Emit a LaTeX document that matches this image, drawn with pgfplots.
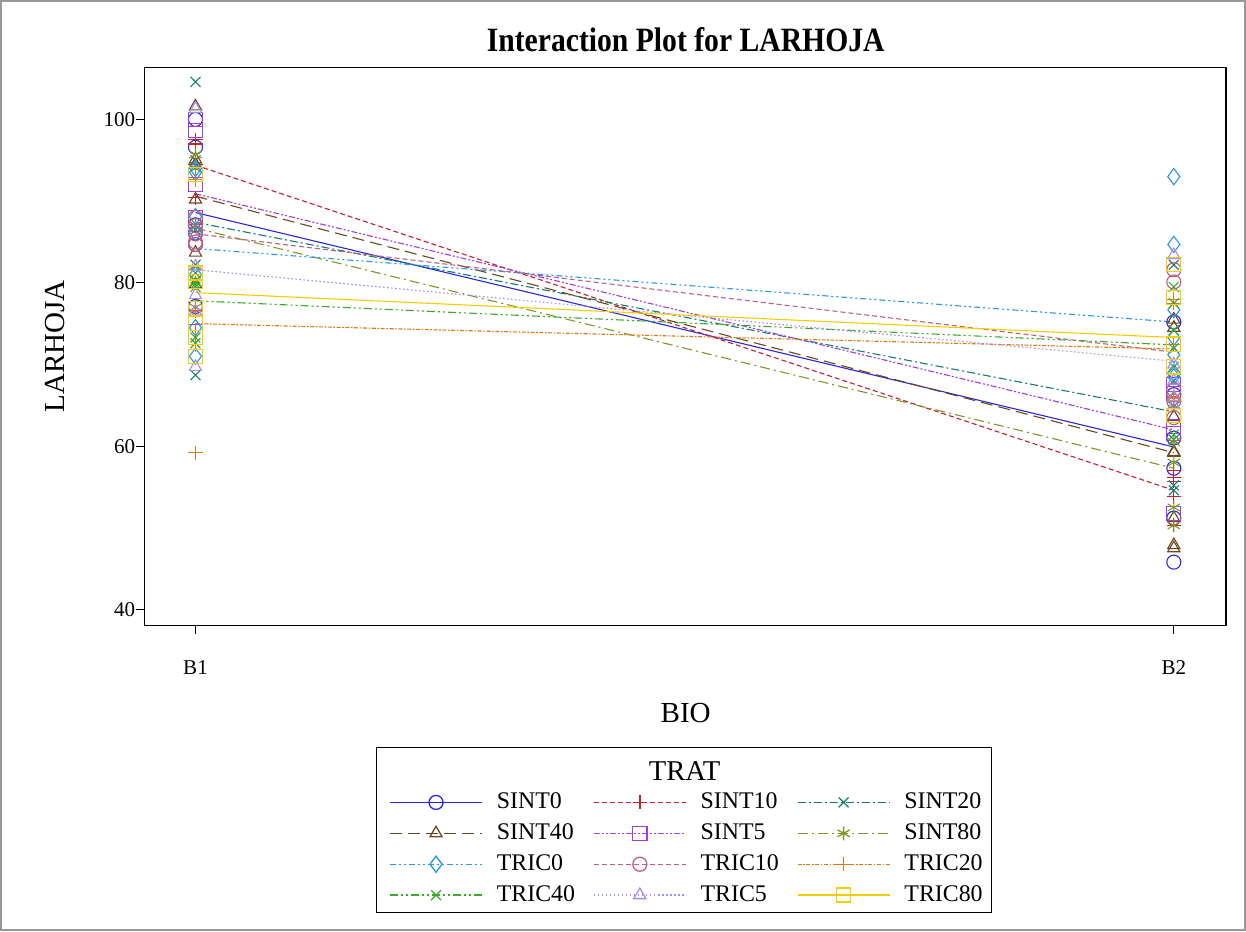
\documentclass[border=0pt]{standalone}
\usepackage{fontspec}
\setmainfont{Liberation Serif}
\usepackage{graphicx}
\usepackage{pgfplots}
\pgfplotsset{compat=1.18}

\definecolor{cA}{RGB}{40,40,220}
\definecolor{cB}{RGB}{200,30,50}
\definecolor{cC}{RGB}{20,125,110}
\definecolor{cD}{RGB}{110,70,30}
\definecolor{cE}{RGB}{160,60,230}
\definecolor{cF}{RGB}{130,150,40}
\definecolor{cG}{RGB}{40,150,240}
\definecolor{cH}{RGB}{190,95,125}
\definecolor{cI}{RGB}{220,120,20}
\definecolor{cJ}{RGB}{60,170,40}
\definecolor{cK}{RGB}{170,140,240}
\definecolor{cL}{RGB}{245,205,0}

\pgfplotsset{
  tA/.style={color=cA, solid, mark=o, mark options={solid}},
  tB/.style={color=cB, dash pattern=on 2.5pt off 1.5pt, mark=+, mark options={solid}},
  tC/.style={color=cC, dash pattern=on 4pt off 1.5pt on 1pt off 1.5pt, mark=x, mark options={solid}},
  tD/.style={color=cD, dash pattern=on 6pt off 3pt, mark=triangle, mark options={solid}},
  tE/.style={color=cE, dash pattern=on 3pt off 1pt on 1pt off 1pt on 1pt off 1pt, mark=square, mark options={solid}},
  tF/.style={color=cF, dash pattern=on 5pt off 2pt on 1pt off 2pt, mark=asterisk, mark options={solid}},
  tG/.style={color=cG, dash pattern=on 3pt off 1.5pt on 1pt off 1.5pt on 1pt off 1.5pt, mark=diamond, mark options={solid, scale=1.15}},
  tH/.style={color=cH, dash pattern=on 2.5pt off 1.5pt, mark=o, mark options={solid}},
  tI/.style={color=cI, dash pattern=on 2pt off 0.8pt on 0.8pt off 0.8pt, mark=+, mark options={solid}},
  tJ/.style={color=cJ, dash pattern=on 4pt off 1.5pt on 1pt off 1.5pt on 1pt off 1.5pt, mark=x, mark options={solid}},
  tK/.style={color=cK, dash pattern=on 0.8pt off 1.2pt, mark=triangle, mark options={solid}},
  tL/.style={color=cL, solid, mark=square, mark options={solid}},
}

\begin{document}
\begin{tikzpicture}
\begin{axis}[
  scale only axis,
  width=539.5pt, height=278.5pt,
  xmin=-0.0523, xmax=1.0533,
  ymin=38.04, ymax=106.4,
  xtick={0,1}, xticklabels={B1,B2},
  ytick={40,60,80,100},
  tick align=outside,
  xtick pos=left, ytick pos=left,
  major tick length=4pt,
  axis line style={line width=0.6pt},
  tick style={line width=0.6pt, black},
  /pgf/number format/assume math mode=true,
  ticklabel style={font=\fontsize{10.5}{12}\selectfont},
  xticklabel style={yshift=-10pt},
  yticklabel style={xshift=3pt},
  title={\scalebox{0.87}[1]{Interaction Plot for LARHOJA}},
  title style={font=\bfseries\fontsize{17}{20}\selectfont, at={(0.5005,1.0285)}, anchor=center},
  xlabel={BIO},
  xlabel style={font=\fontsize{14.5}{17}\selectfont, at={(axis description cs:0.5005,-0.156)}, anchor=center},
  ylabel={LARHOJA},
  ylabel style={font=\fontsize{14.5}{17}\selectfont, at={(axis description cs:-0.083,0.5)}, anchor=center},
  every axis plot/.append style={line width=0.55pt},
  mark size=3.5pt,
  clip=false,
  legend columns=3,
  legend cell align=left,
  legend style={at={(rel axis cs:0.2261,-0.292)}, anchor=north west, draw=none, fill=none,
    font=\fontsize{11.9}{13}\selectfont, inner sep=0pt, row sep=2pt,
    nodes={inner ysep=2pt, inner xsep=0pt},
    /tikz/every odd column/.append style={column sep=7pt},
    /tikz/every even column/.append style={column sep=6pt}},
  legend image code/.code={\draw[mark repeat=2, mark phase=2, #1, line width=0.65pt] plot coordinates {(0pt,0pt) (23pt,0pt) (46pt,0pt)};},
]
% ---- observations ----
\addplot[tA, only marks, forget plot] coordinates {(0,100) (0,96.6) (0,87.1) (0,86.1) (0,84.7) (0,77.1)
  (1,75.2) (1,66.3) (1,61) (1,57.3) (1,51.2) (1,45.8)};
\addplot[tB, only marks, forget plot] coordinates {(0,97) (0,94.5) (0,90.4) (0,97.5) (0,92.6)
  (1,56.2) (1,53.8) (1,50.3) (1,57) (1,55.7)};
\addplot[tC, only marks, forget plot] coordinates {(0,104.6) (0,95) (0,82.2) (0,68.7) (0,86.5)
  (1,82.2) (1,68) (1,60.8) (1,55.2) (1,54.6)};
\addplot[tD, only marks, forget plot] coordinates {(0,101.6) (0,95.1) (0,94.5) (0,90.2) (0,83.7) (0,79.8)
  (1,75.5) (1,74.5) (1,63.6) (1,59.3) (1,59.2) (1,51.2) (1,47.9) (1,47.5)};
\addplot[tE, only marks, forget plot] coordinates {(0,100) (0,98.6) (0,92) (0,75.7) (0,88)
  (1,67.5) (1,66.5) (1,62.4) (1,61.5) (1,51.8)};
\addplot[tF, only marks, forget plot] coordinates {(0,95.7) (0,94) (0,87) (0,80) (0,77)
  (1,60.5) (1,58) (1,52.5) (1,50.3) (1,65)};
\addplot[tG, only marks, forget plot] coordinates {(0,93.5) (0,94) (0,88.1) (0,86.1) (0,81) (0,74.5) (0,71)
  (1,93) (1,84.7) (1,76.7) (1,73.3) (1,71.2) (1,68.5) (1,65.7) (1,69)};
\addplot[tH, only marks, forget plot] coordinates {(0,88) (0,87) (0,86) (0,85) (0,84.7)
  (1,81.6) (1,80.1) (1,66.9) (1,65.5) (1,63.5)};
\addplot[tI, only marks, forget plot] coordinates {(0,92.6) (0,74.2) (0,72.4) (0,59.2) (0,76.5)
  (1,78) (1,77.5) (1,72.5) (1,65.9) (1,65.5)};
\addplot[tJ, only marks, forget plot] coordinates {(0,81.2) (0,80.2) (0,79.5) (0,73.3) (0,72.6) (0,79.9)
  (1,77.5) (1,79.5) (1,74.2) (1,72) (1,69.7) (1,61.4)};
\addplot[tK, only marks, forget plot] coordinates {(0,82) (0,78.5) (0,76.5) (0,69.7) (0,101.3)
  (1,83.4) (1,70) (1,68) (1,65) (1,66)};
\addplot[tL, only marks, forget plot] coordinates {(0,93.3) (0,81.2) (0,80.2) (0,76.9) (0,75) (0,73.3) (0,71)
  (1,82.2) (1,78.2) (1,69.7) (1,63.8) (1,72.5)};
% ---- mean lines ----
\addplot[tA, no markers, forget plot] coordinates {(0,88.6) (1,59.9)};
\addplot[tB, no markers, forget plot] coordinates {(0,94.4) (1,54.6)};
\addplot[tC, no markers, forget plot] coordinates {(0,87.4) (1,64.2)};
\addplot[tD, no markers, forget plot] coordinates {(0,90.6) (1,59.2)};
\addplot[tE, no markers, forget plot] coordinates {(0,90.9) (1,62.0)};
\addplot[tF, no markers, forget plot] coordinates {(0,86.7) (1,57.3)};
\addplot[tG, no markers, forget plot] coordinates {(0,84.2) (1,75.2)};
\addplot[tH, no markers, forget plot] coordinates {(0,86.0) (1,71.5)};
\addplot[tI, no markers, forget plot] coordinates {(0,75.0) (1,71.9)};
\addplot[tJ, no markers, forget plot] coordinates {(0,77.8) (1,72.4)};
\addplot[tK, no markers, forget plot] coordinates {(0,81.6) (1,70.4)};
\addplot[tL, no markers, forget plot] coordinates {(0,78.8) (1,73.3)};
% ---- legend ----
\addlegendimage{tA}\addlegendentry{\makebox[42pt][l]{SINT0}}
\addlegendimage{tB}\addlegendentry{\makebox[42pt][l]{SINT10}}
\addlegendimage{tC}\addlegendentry{\makebox[42pt][l]{SINT20}}
\addlegendimage{tD}\addlegendentry{\makebox[42pt][l]{SINT40}}
\addlegendimage{tE}\addlegendentry{\makebox[42pt][l]{SINT5}}
\addlegendimage{tF}\addlegendentry{\makebox[42pt][l]{SINT80}}
\addlegendimage{tG}\addlegendentry{\makebox[42pt][l]{TRIC0}}
\addlegendimage{tH}\addlegendentry{\makebox[42pt][l]{TRIC10}}
\addlegendimage{tI}\addlegendentry{\makebox[42pt][l]{TRIC20}}
\addlegendimage{tJ}\addlegendentry{\makebox[42pt][l]{TRIC40}}
\addlegendimage{tK}\addlegendentry{\makebox[42pt][l]{TRIC5}}
\addlegendimage{tL}\addlegendentry{\makebox[42pt][l]{TRIC80}}
% ---- legend frame and title ----
\draw[black, line width=0.6pt] (rel axis cs:0.2150,-0.2190) rectangle (rel axis cs:0.7831,-0.5135);
\node[font=\fontsize{14.3}{16}\selectfont, anchor=center] at (rel axis cs:0.4995,-0.2603) {TRAT};
% ---- outer frame ----
\draw[gray!80, line width=1pt] (rel axis cs:-0.1325,-0.5458) rectangle (rel axis cs:1.0176,1.1185);
\end{axis}
\end{tikzpicture}
\end{document}
